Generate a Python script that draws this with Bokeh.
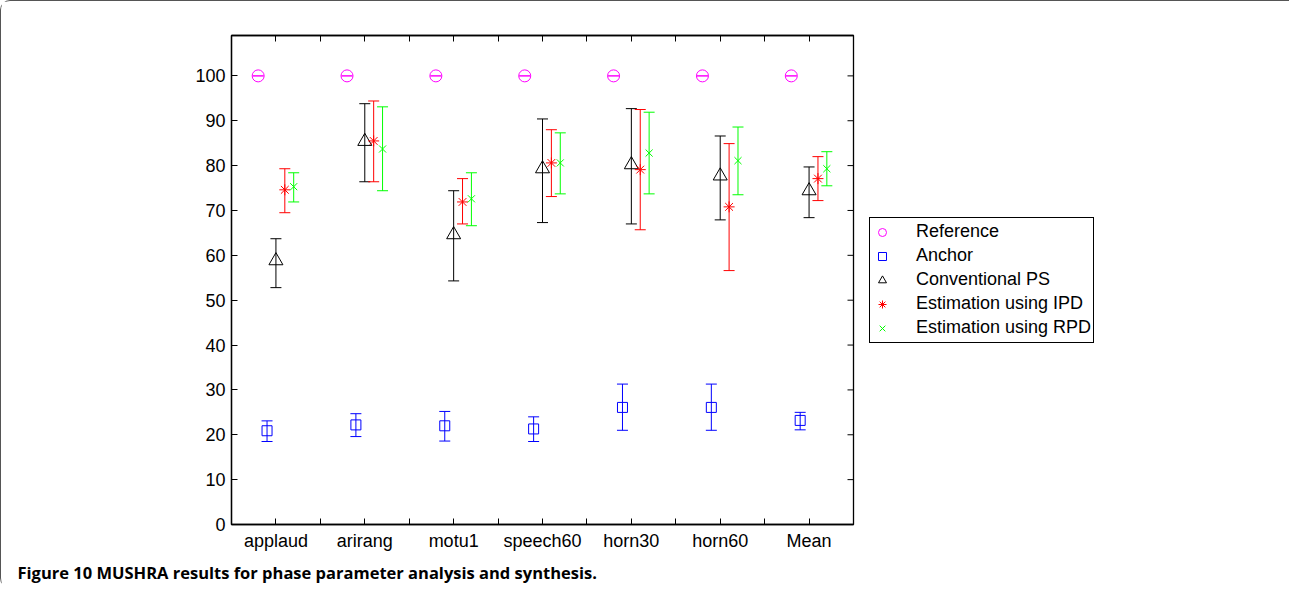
import numpy as np
from bokeh.plotting import figure
from bokeh.models import (ColumnDataSource, Range1d, LinearAxis, FixedTicker, Whisker, TeeHead,
                          Legend, LegendItem, Title)
from bokeh.embed import file_html
from bokeh.resources import INLINE

# ---------------- data ----------------
categories = ["applaud", "arirang", "motu1", "speech60", "horn30", "horn60", "Mean"]

reference = [100, 100, 100, 100, 100, 100, 100]
reference_hi = [100, 100, 100, 100, 100, 100, 100]
reference_lo = [100, 100, 100, 100, 100, 100, 100]

anchor = [20.9, 22.2, 22.0, 21.3, 26.1, 26.1, 23.2]
anchor_hi = [23.1, 24.7, 25.2, 24.0, 31.3, 31.3, 25.0]
anchor_lo = [18.5, 19.6, 18.6, 18.5, 21.0, 21.0, 21.1]

conventional = [58.8, 85.4, 64.6, 79.3, 80.2, 77.7, 74.4]
conventional_hi = [63.7, 93.8, 74.4, 90.4, 92.7, 86.6, 79.7]
conventional_lo = [52.8, 76.4, 54.3, 67.3, 67.0, 67.9, 68.4]

ipd = [74.6, 85.5, 71.9, 80.6, 79.1, 70.8, 77.1]
ipd_hi = [79.3, 94.4, 77.1, 88.0, 92.5, 84.9, 82.0]
ipd_lo = [69.5, 76.4, 67.0, 73.1, 65.7, 56.6, 72.2]

rpd = [75.3, 83.7, 72.6, 80.6, 82.8, 81.1, 79.3]
rpd_hi = [78.4, 93.1, 78.4, 87.3, 91.9, 88.6, 83.1]
rpd_lo = [71.9, 74.4, 66.6, 73.7, 73.7, 73.5, 75.5]

series_names = ["Reference", "Anchor", "Conventional PS", "Estimation using IPD", "Estimation using RPD"]
y_ticks = [0, 10, 20, 30, 40, 50, 60, 70, 80, 90, 100]

caption = "Figure 10 MUSHRA results for phase parameter analysis and synthesis."

# ---------------- figure ----------------
positions = list(range(1, len(categories) + 1))
FONT = "Liberation Sans"
X0, X1 = 0.5, 7.5

p = figure(frame_width=622, frame_height=489, output_backend="svg", toolbar_location=None,
           x_range=Range1d(X0, X1), y_range=Range1d(0, 109),
           min_border_left=230, min_border_right=421, min_border_top=34, min_border_bottom=10,
           background_fill_color="white", border_fill_color="white")
p.grid.visible = False
p.outline_line_color = "black"
p.outline_line_width = 1.3
p.outline_line_alpha = 1

x_ticks = sorted(positions + [v + 0.5 for v in positions[:-1]])
x_over = {}
for v in x_ticks:
    x_over[v] = ""
for v, c in zip(positions, categories):
    x_over[v] = c

def style_axis(ax, ticks, overrides=None):
    ax.ticker = FixedTicker(ticks=ticks)
    ax.minor_tick_line_color = None
    ax.major_tick_in = 6
    ax.major_tick_out = 0
    ax.axis_line_color = "black"
    ax.axis_line_width = 1.3
    ax.major_tick_line_color = "black"
    ax.major_tick_line_width = 1
    ax.major_label_text_font = FONT
    ax.major_label_text_font_size = "18px"
    ax.major_label_text_color = "black"
    if overrides is not None:
        ax.major_label_overrides = overrides

style_axis(p.xaxis[0], x_ticks, overrides=x_over)
p.xaxis[0].major_label_standoff = 6
style_axis(p.yaxis[0], y_ticks)
p.yaxis[0].major_label_standoff = 6

top_ax = LinearAxis()
style_axis(top_ax, x_ticks, overrides={v: "" for v in x_ticks})
top_ax.major_label_standoff = 0
p.add_layout(top_ax, "above")

# inward ticks along the right edge of the box
p.ray(x=[X1] * len(y_ticks), y=y_ticks, length=6, angle=np.pi, length_units="screen",
      line_color="black", line_width=1)

colors = ["#ff00ff", "#0000ff", "#000000", "#ff0000", "#00ff00"]
offsets = [-0.2, -0.1, 0.0, 0.1, 0.2]
values = [reference, anchor, conventional, ipd, rpd]
his = [reference_hi, anchor_hi, conventional_hi, ipd_hi, rpd_hi]
los = [reference_lo, anchor_lo, conventional_lo, ipd_lo, rpd_lo]
markers = ["circle", "square", "triangle", "asterisk", "x"]
sizes = [12, 10, 14, 11, 10]

items = []
for name, col, off, val, hi, lo, mk, sz in zip(series_names, colors, offsets, values, his, los, markers, sizes):
    src = ColumnDataSource(dict(x=[v + off for v in positions], y=val, hi=hi, lo=lo))
    w = Whisker(source=src, base="x", upper="hi", lower="lo", dimension="height",
                line_color=col, line_width=1,
                upper_head=TeeHead(size=11, line_color=col, line_width=1),
                lower_head=TeeHead(size=11, line_color=col, line_width=1))
    p.add_layout(w)
    r = p.scatter("x", "y", source=src, marker=mk, size=sz, line_color=col,
                  fill_color=None, line_width=1)
    items.append(LegendItem(label=name, renderers=[r]))

legend = Legend(items=items, location="center_left", orientation="vertical",
                border_line_color="black", border_line_width=1, border_line_alpha=1,
                background_fill_color="white", background_fill_alpha=1,
                label_text_font=FONT, label_text_font_size="18px", label_text_color="black",
                glyph_width=20, glyph_height=24, label_height=24, spacing=0,
                padding=2, label_standoff=24, margin=16)
p.add_layout(legend, "right")

# caption below the chart
cap = Title(text=caption, align="left", offset=-214, text_font="Open Sans",
            text_font_style="bold", text_font_size="16.5px", text_color="black", standoff=10)
p.add_layout(cap, "below")

p.styles = {"border-top": "1.5px solid #555555", "border-left": "1.5px solid #555555",
            "border-top-left-radius": "10px", "border-bottom-left-radius": "10px"}

open("out.html", "w").write(file_html(p, INLINE))
